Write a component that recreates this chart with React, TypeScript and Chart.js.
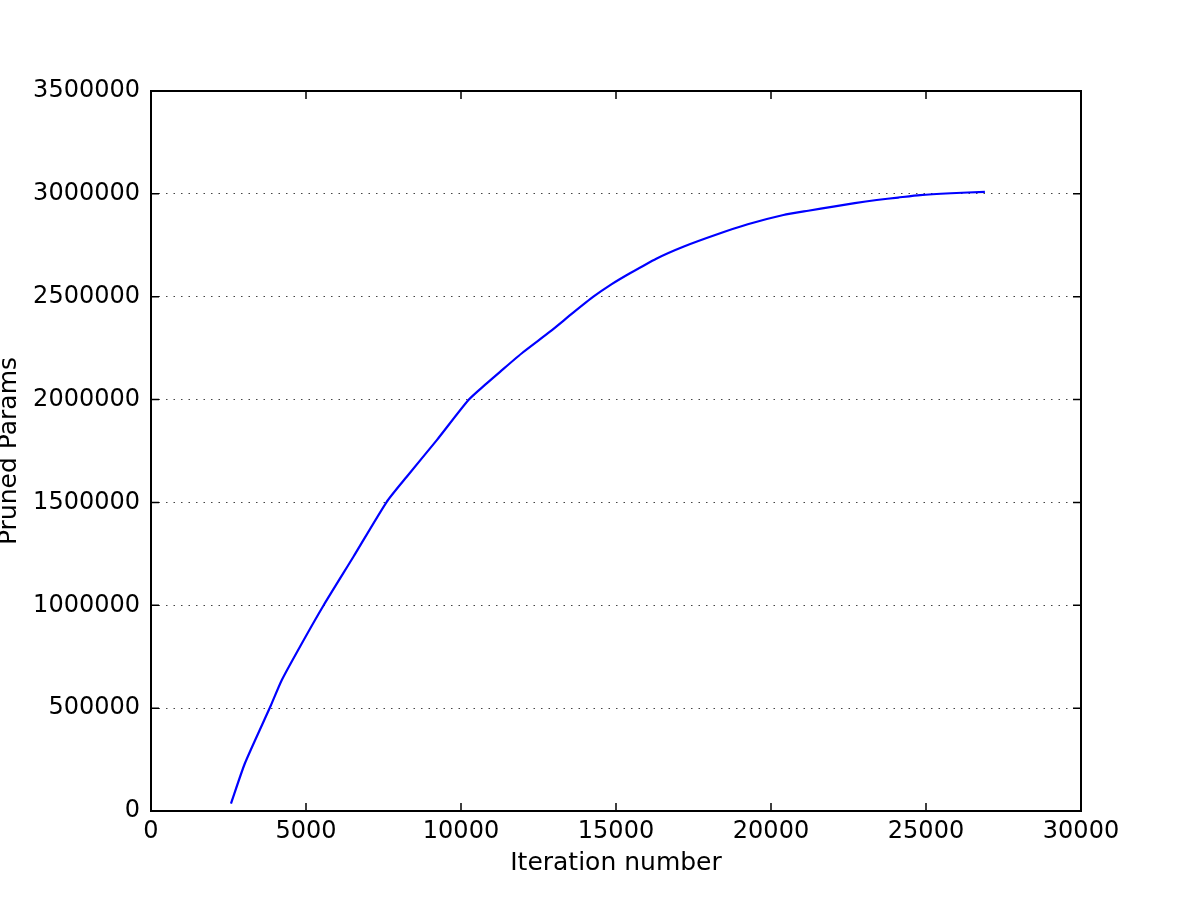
import React, { useEffect, useRef } from "react";
import { Chart, registerables } from "chart.js";

Chart.register(...registerables);

const iterations = [2580, 3030, 3840, 4220, 4810, 5560, 6530, 7600, 8250, 9220, 10240, 10800, 11260, 12000, 12870, 13600, 14270, 14850, 15450, 16300, 17170, 18200, 19250, 20400, 21200, 22010, 22700, 23410, 24100, 24810, 25800, 26900];
const prunedParams = [36000, 232000, 504000, 637000, 800000, 998000, 1236000, 1502000, 1625000, 1803000, 1998000, 2075000, 2135000, 2230000, 2330000, 2420000, 2500000, 2560000, 2614000, 2685000, 2743000, 2800000, 2852000, 2897000, 2918000, 2938000, 2955000, 2970000, 2982000, 2994000, 3003000, 3010000];

const xTicksStep = 5000;
const yTicksStep = 500000;
const xMax = 30000;
const yMax = 3500000;

const FONT = "'DejaVu Sans', sans-serif";

const framePlugin = {
  id: "frameTicks",
  afterDraw(chart: any) {
    const { ctx, chartArea } = chart;
    const { left, right, top, bottom } = chartArea;
    const xs = chart.scales.x;
    const ys = chart.scales.y;
    ctx.save();
    ctx.strokeStyle = "#000";
    ctx.lineWidth = 1.5;
    ctx.setLineDash([]);
    const tl = 8;
    ctx.beginPath();
    xs.ticks.forEach((t: any) => {
      const px = xs.getPixelForValue(t.value);
      ctx.moveTo(px, bottom);
      ctx.lineTo(px, bottom - tl);
      ctx.moveTo(px, top);
      ctx.lineTo(px, top + tl);
    });
    ys.ticks.forEach((t: any) => {
      const py = ys.getPixelForValue(t.value);
      ctx.moveTo(left, py);
      ctx.lineTo(left + tl, py);
      ctx.moveTo(right, py);
      ctx.lineTo(right - tl, py);
    });
    ctx.stroke();
    ctx.lineWidth = 2;
    ctx.strokeRect(left, top, right - left, bottom - top);
    ctx.restore();
  },
};

export default function App() {
  const ref = useRef<HTMLCanvasElement | null>(null);
  useEffect(() => {
    document.body.style.margin = "0";
    const canvas = ref.current!;
    const chart = new Chart(canvas, {
      type: "line",
      data: {
        datasets: [
          {
            data: iterations.map((x, i) => ({ x, y: prunedParams[i] })),
            borderColor: "#0000ff",
            borderWidth: 2.2,
            pointRadius: 0,
            tension: 0.2,
            fill: false,
          },
        ],
      },
      options: {
        animation: false,
        responsive: false,
        maintainAspectRatio: false,
        layout: { padding: { top: 91, right: 120, left: 0, bottom: 0 } },
        plugins: { legend: { display: false }, tooltip: { enabled: false } },
        scales: {
          x: {
            type: "linear",
            min: 0,
            max: xMax,
            grid: { display: false, drawTicks: false },
            border: { display: false },
            ticks: {
              stepSize: xTicksStep,
              autoSkip: false,
              maxRotation: 0,
              padding: 6,
              color: "#000",
              font: { family: FONT, size: 24 },
              callback: (v: any) => String(v),
            },
            title: {
              display: true,
              text: "Iteration number",
              color: "#000",
              font: { family: FONT, size: 25 },
              padding: { top: 0, bottom: 23 },
            },
            afterFit: (s: any) => {
              s.height = 90;
            },
          },
          y: {
            type: "linear",
            min: 0,
            max: yMax,
            grid: {
              drawTicks: false,
              lineWidth: 1,
              color: (c: any) => {
                const v = c.tick ? c.tick.value : null;
                return v === 0 || v === yMax ? "rgba(0,0,0,0)" : "#444";
              },
            },
            border: { display: false, dash: [1.5, 6] },
            ticks: {
              stepSize: yTicksStep,
              autoSkip: false,
              padding: 11,
              color: "#000",
              font: { family: FONT, size: 24 },
              callback: (v: any) => String(v),
            },
            title: {
              display: true,
              text: "Pruned Params",
              color: "#000",
              font: { family: FONT, size: 25 },
              padding: { top: -6, bottom: 0 },
            },
            afterFit: (s: any) => {
              s.width = 151;
            },
          },
        },
      },
      plugins: [framePlugin],
    });
    return () => chart.destroy();
  }, []);
  return (
    <div style={{ width: 1201, height: 901, background: "#fff" }}>
      <canvas ref={ref} width={1201} height={901} style={{ display: "block" }} />
    </div>
  );
}
